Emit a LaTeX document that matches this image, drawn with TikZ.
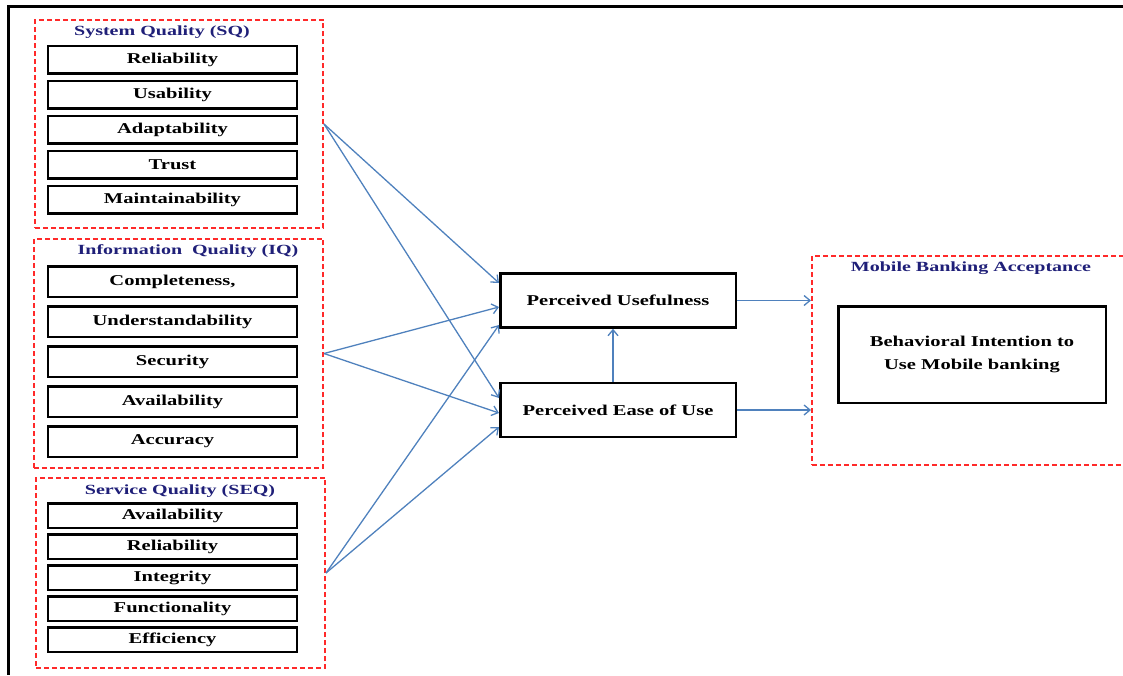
\documentclass[tikz,border=0pt]{standalone}
\usepackage{fontspec}
\setmainfont{Liberation Serif}[FakeStretch=1.37]
\newfontfamily\grouptitlefont{Liberation Serif}[FakeStretch=1.43]
\usetikzlibrary{arrows.meta,positioning}
\definecolor{linkblue}{HTML}{4F81BD}
\definecolor{titlenavy}{HTML}{1F1F78}
\definecolor{framered}{HTML}{FF2A2A}
\tikzset{
  dimbox/.style={draw=black,solid,line width=2.5pt,fill=white,inner sep=0pt,
    minimum width=248.5pt,font=\bfseries\fontsize{15}{17}\selectfont},
  grpframe/.style={draw=framered,line width=1.8pt,dash pattern=on 5pt off 3pt},
  grptitle/.style={text=titlenavy,inner sep=0pt,
    font=\grouptitlefont\bfseries\fontsize{14}{16}\selectfont},
  tambox/.style={draw=black,line width=2.5pt,fill=white,minimum width=235.5pt,
    minimum height=54pt,font=\bfseries\fontsize{15}{17}\selectfont},
  link/.style={draw=linkblue,line width=1.3pt,-{Straight Barb[length=6pt,width=10pt]}},
}
\begin{document}
\begin{tikzpicture}[x=1pt,y=-1pt]
\useasboundingbox (0,0) rectangle (1123,675);
\draw[line width=3pt] (1123,6.5) -- (8.5,6.5) -- (8.5,675);

% system quality
\node[grpframe,minimum width=288.2pt,minimum height=208.2pt] (sq) at (179,124) {};
\node[grptitle] (sqt) at (162,32) {System Quality (SQ)};
\matrix (sqm) [row sep=5pt,nodes={dimbox,minimum height=27.5pt}] at (172.5,129.5) {
  \node {Reliability};\\
  \node {Usability};\\
  \node {Adaptability};\\
  \node {Trust};\\
  \node {Maintainability};\\
};

% information quality
\node[grpframe,minimum width=289.2pt,minimum height=229.2pt] (iq) at (178.5,353.5) {};
\node[grptitle] (iqt) at (188,251) {Information~~Quality (IQ)};
\matrix (iqm) [row sep=7pt,nodes={dimbox,minimum height=30.5pt}] at (172.5,361.5) {
  \node {Completeness,};\\
  \node {Understandability};\\
  \node {Security};\\
  \node {Availability};\\
  \node {Accuracy};\\
};

% service quality
\node[grpframe,minimum width=289.2pt,minimum height=190.2pt] (seq) at (180.5,573) {};
\node[grptitle] (seqt) at (180,491) {Service Quality (SEQ)};
\matrix (seqm) [row sep=4pt,nodes={dimbox,minimum height=24.5pt}] at (172.5,577.5) {
  \node {Availability};\\
  \node {Reliability};\\
  \node {Integrity};\\
  \node {Functionality};\\
  \node {Efficiency};\\
};

% TAM constructs
\node[tambox] (pu) at (618,300.5) {Perceived Usefulness};
\node[tambox,below=53pt of pu] (peou) {Perceived Ease of Use};

% acceptance
\node[grpframe,minimum width=327.2pt,minimum height=209.2pt] (mba) at (975.5,360.5) {};
\node[grptitle] (mbat) at (971,268) {Mobile Banking Acceptance};
\node[tambox,minimum width=267.5pt,minimum height=96.5pt,align=center,
  font=\bfseries\fontsize{15}{23}\selectfont] (bi) at (972,354.5)
  {Behavioral Intention to\\Use Mobile banking};

\draw[link] (sq.east) -- ([yshift=17.5pt]pu.west);
\draw[link] (sq.east) -- ([yshift=12pt]peou.west);
\draw[link] (iq.east) -- ([yshift=-6.5pt]pu.west);
\draw[link] (iq.east) -- ([yshift=-3pt]peou.west);
\draw[link] (seq.east) -- ([yshift=-24.5pt]pu.west);
\draw[link] (seq.east) -- ([yshift=-17pt]peou.west);
\draw[link] ([xshift=-5pt]peou.north) -- ([xshift=-5pt]pu.south);
\draw[link] (pu.east) -- (pu.east -| mba.west);
\draw[link] (peou.east) -- (peou.east -| mba.west);
\end{tikzpicture}
\end{document}
